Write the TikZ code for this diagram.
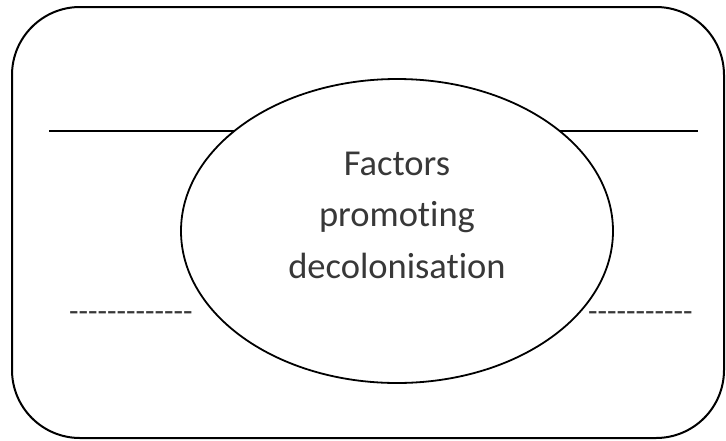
\documentclass[tikz,border=0pt]{standalone}
\usepackage{fontspec}
\usetikzlibrary{shapes.geometric}
\setmainfont{Carlito}[Ligatures={TeXOff,CommonOff}]
\begin{document}
\begin{tikzpicture}[x=1pt,y=-1pt,
  frame/.style={draw=black,line width=2pt,rounded corners=68pt},
  rule/.style={draw=black,line width=1.8pt},
  bubble/.style={draw=black,line width=1.8pt,fill=white,ellipse,minimum width=432pt,minimum height=304pt,inner sep=0pt},
  label/.style={font=\fontsize{36.5}{51.5}\selectfont,text=black!78,align=center,inner sep=0pt},
  dashtext/.style={font=\fontsize{31}{34}\selectfont,text=black!78,inner sep=0pt,anchor=base west}]
\useasboundingbox (0,0) rectangle (726,440);
\draw[frame] (12,7) rectangle (724,438);
\coordinate (la) at (49,131);
\coordinate (lb) at (698,131);
\draw[rule] (la) -- (lb);
\node[bubble] (ell) at (397,231) {};
\node[label,anchor=base] (txt) at (397,278) {Factors\\promoting\\decolonisation};
\node[dashtext] (dl) at (69,321) {-------------};
\node[dashtext] (dr) at (588,321) {-----------};
\end{tikzpicture}
\end{document}
